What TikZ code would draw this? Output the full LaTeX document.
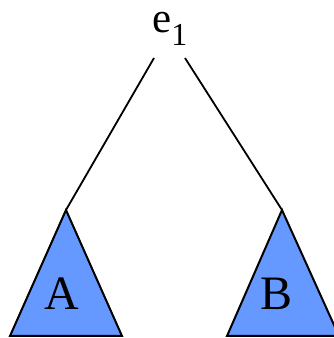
\documentclass[tikz,border=0pt]{standalone}
\usepackage{fontspec}
\setmainfont{Liberation Serif}
\definecolor{treeblue}{HTML}{6699FF}
\begin{document}
\begin{tikzpicture}[x=1pt,y=1pt,
  edge/.style={line width=1.8pt},
  subtree/.style={fill=treeblue,draw=black,line width=2pt,line join=miter},
  lbl/.style={font=\fontsize{48}{48}\selectfont,inner sep=0pt},
  toplbl/.style={font=\fontsize{43}{43}\selectfont,inner sep=0pt}]
\useasboundingbox (0,0) rectangle (334,338);
\node[toplbl,anchor=base west] (e1) at (152,305) {e\raisebox{-0.3em}{\fontsize{32}{32}\selectfont 1}};
\coordinate (el) at (154,280);
\coordinate (er) at (185,280);
\coordinate (ta) at (66,128);
\coordinate (tb) at (282,128);
\draw[subtree] (ta) -- (10,2) -- (122,2) -- cycle;
\draw[subtree] (tb) -- (227,2) -- (339,2) -- cycle;
\node[lbl] (A) at (62,44) {A};
\node[lbl] (B) at (277,44) {B};
\draw[edge] (el) -- (ta);
\draw[edge] (er) -- (tb);
\end{tikzpicture}
\end{document}
